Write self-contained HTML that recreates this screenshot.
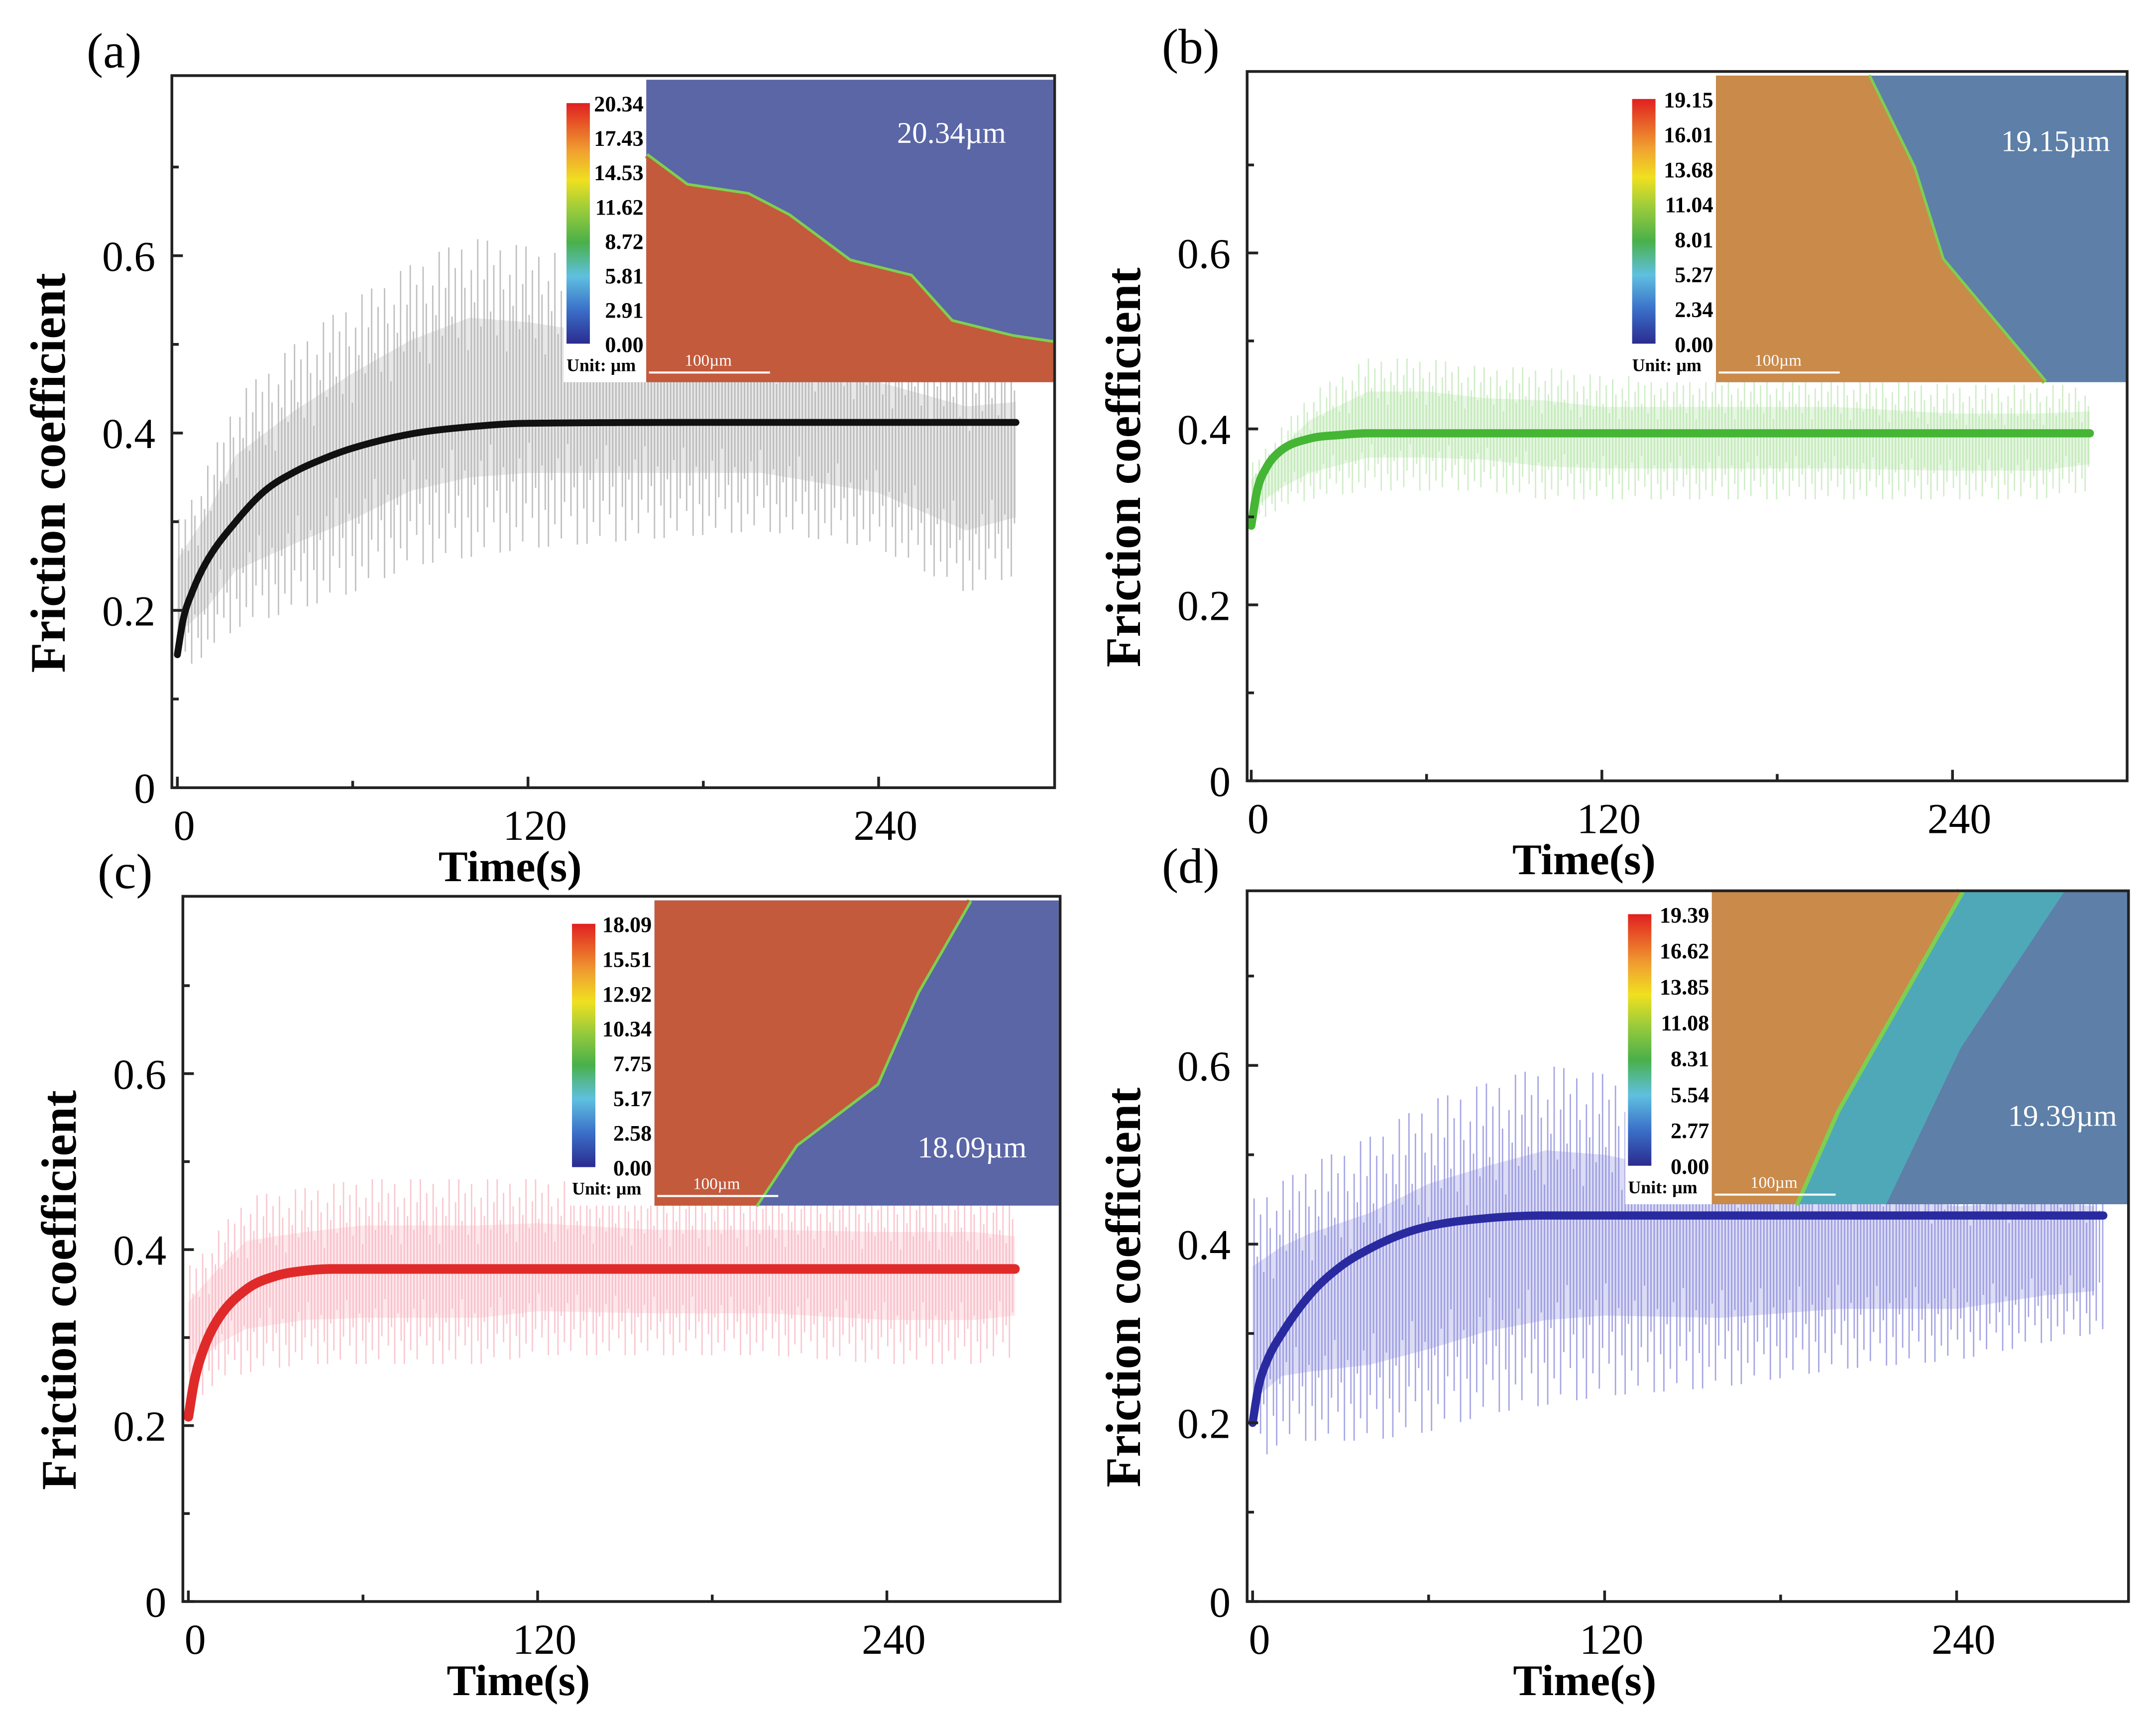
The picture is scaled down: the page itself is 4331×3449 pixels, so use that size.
<!DOCTYPE html>
<html><head><meta charset="utf-8">
<style>
html,body{margin:0;padding:0;background:#fff;}
svg{display:block;}
text{font-family:"Liberation Serif",serif;}
</style></head>
<body>
<svg id="fig" width="4331" height="3449" viewBox="0 0 1568 1249" preserveAspectRatio="none" xmlns="http://www.w3.org/2000/svg">
<defs>
<linearGradient id="cbar" x1="0" y1="1" x2="0" y2="0">
<stop offset="0" stop-color="#2b2b8f"/><stop offset="0.14" stop-color="#3a6fc8"/>
<stop offset="0.28" stop-color="#5fc0e0"/><stop offset="0.42" stop-color="#49b04a"/>
<stop offset="0.56" stop-color="#9ccc3a"/><stop offset="0.68" stop-color="#f0e020"/>
<stop offset="0.8" stop-color="#f0a030"/><stop offset="1" stop-color="#e02020"/>
</linearGradient>
</defs>
</svg>
<script>
// ---- data (times in s, values are friction coefficient) ----
const envTimes = [0, 10, 20, 40, 60, 80, 100, 120, 160, 200, 240, 270, 287];
const upperA = [0.30, 0.36, 0.44, 0.50, 0.55, 0.59, 0.62, 0.61, 0.58, 0.55, 0.52, 0.50, 0.50];
const lowerA = [0.13, 0.15, 0.18, 0.20, 0.22, 0.25, 0.26, 0.27, 0.28, 0.29, 0.27, 0.22, 0.24];
const upperB = [0.36, 0.40, 0.44, 0.48, 0.48, 0.47, 0.47, 0.46, 0.46, 0.46, 0.45, 0.45, 0.45];
const lowerB = [0.29, 0.31, 0.32, 0.33, 0.33, 0.33, 0.32, 0.32, 0.32, 0.32, 0.32, 0.32, 0.33];
const upperC = [0.38, 0.42, 0.46, 0.47, 0.48, 0.48, 0.48, 0.48, 0.47, 0.47, 0.47, 0.47, 0.46];
const lowerC = [0.22, 0.25, 0.26, 0.27, 0.27, 0.27, 0.27, 0.28, 0.28, 0.28, 0.27, 0.27, 0.28];
const upperD = [0.45, 0.47, 0.49, 0.52, 0.56, 0.58, 0.60, 0.59, 0.55, 0.53, 0.50, 0.50, 0.49];
const lowerD = [0.15, 0.18, 0.18, 0.18, 0.19, 0.21, 0.22, 0.23, 0.24, 0.26, 0.27, 0.29, 0.30];
const fitTimes = [0, 2, 5, 10, 20, 30, 40, 50, 60, 80, 100, 120, 200, 287];
const fitA = [0.15, 0.19, 0.22, 0.255, 0.30, 0.335, 0.356, 0.371, 0.383, 0.399, 0.407, 0.411, 0.412, 0.412];
const fitB = [0.29, 0.33, 0.355, 0.375, 0.389, 0.393, 0.395, 0.395, 0.395, 0.395, 0.395, 0.395, 0.395, 0.395];
const fitC = [0.21, 0.25, 0.285, 0.32, 0.355, 0.370, 0.376, 0.378, 0.378, 0.378, 0.378, 0.378, 0.378, 0.378];
const fitD = [0.20, 0.24, 0.27, 0.30, 0.345, 0.375, 0.395, 0.41, 0.42, 0.429, 0.432, 0.432, 0.432, 0.432];
const xTicks = [0, 120, 240];
const xTickLabels = ["0", "120", "240"];
const yTicks = [0, 0.2, 0.4, 0.6];
const yTickLabels = ["0", "0.2", "0.4", "0.6"];
const cbarLabelsA = ["20.34","17.43","14.53","11.62","8.72","5.81","2.91","0.00"];
const cbarLabelsB = ["19.15","16.01","13.68","11.04","8.01","5.27","2.34","0.00"];
const cbarLabelsC = ["18.09","15.51","12.92","10.34","7.75","5.17","2.58","0.00"];
const cbarLabelsD = ["19.39","16.62","13.85","11.08","8.31","5.54","2.77","0.00"];
const spikePattern = [1, 0.55, 0.85, 0.4, 0.95, 0.7, 0.3, 0.8, 0.6, 1, 0.45, 0.75];

const NS = "http://www.w3.org/2000/svg";
const svg = document.getElementById("fig");
function mk(tag, attrs, parent) {
  const e = document.createElementNS(NS, tag);
  for (const k in attrs) e.setAttribute(k, attrs[k]);
  (parent || svg).appendChild(e);
  return e;
}
function interp(ts, vs, t) {
  if (t <= ts[0]) return vs[0];
  for (let i = 1; i < ts.length; i++) {
    if (t <= ts[i]) { const f = (t - ts[i-1]) / (ts[i] - ts[i-1]); return vs[i-1] + f * (vs[i] - vs[i-1]); }
  }
  return vs[vs.length - 1];
}
function smooth(ts, vs, t) {
  const n = ts.length;
  if (t <= ts[0]) return vs[0];
  if (t >= ts[n-1]) return vs[n-1];
  const d = [], m = [];
  for (let i = 0; i < n-1; i++) d.push((vs[i+1]-vs[i])/(ts[i+1]-ts[i]));
  m.push(d[0]);
  for (let i = 1; i < n-1; i++) m.push(d[i-1]*d[i] <= 0 ? 0 : (d[i-1]+d[i])/2);
  m.push(d[n-2]);
  for (let i = 0; i < n-1; i++) {
    if (d[i] === 0) { m[i] = 0; m[i+1] = 0; continue; }
    const a = m[i]/d[i], b = m[i+1]/d[i], s = a*a + b*b;
    if (s > 9) { const tt = 3/Math.sqrt(s); m[i] = tt*a*d[i]; m[i+1] = tt*b*d[i]; }
  }
  let k = 0; while (t > ts[k+1]) k++;
  const h = ts[k+1]-ts[k], u = (t-ts[k])/h;
  const h00 = 2*u*u*u-3*u*u+1, h10 = u*u*u-2*u*u+u, h01 = -2*u*u*u+3*u*u, h11 = u*u*u-u*u;
  return h00*vs[k] + h10*h*m[k] + h01*vs[k+1] + h11*h*m[k+1];
}

const panels = [
 {id:"a", l:125, r:767, t:55, b:573, x0:129, x120:384, y02:444, tEnd:287, up:upperA, lo:lowerA, fit:fitA, spike:"#b0b0b0", fitc:"#111", fitw:5, op:0.8,
  ins:{wx:410, ix:470, iy:58, ix2:766, iy2:278}, cb:cbarLabelsA, label:"20.34µm", lx:692, ly:104, kind:"a"},
 {id:"b", l:907, r:1547, t:52, b:568, x0:910, x120:1165, y02:440, tEnd:287, up:upperB, lo:lowerB, fit:fitB, spike:"#a8e09a", fitc:"#45b535", fitw:6, op:0.55,
  ins:{wx:1185, ix:1248, iy:55, ix2:1547, iy2:278}, cb:cbarLabelsB, label:"19.15µm", lx:1495, ly:110, kind:"b"},
 {id:"c", l:133, r:771, t:652, b:1165, x0:137, x120:391, y02:1037, tEnd:284, up:upperC, lo:lowerC, fit:fitC, spike:"#f7b0bc", fitc:"#e02a2a", fitw:7, op:0.7,
  ins:{wx:414, ix:476, iy:655, ix2:770, iy2:877}, cb:cbarLabelsC, label:"18.09µm", lx:707, ly:842, kind:"c"},
 {id:"d", l:907, r:1548, t:648, b:1165, x0:911, x120:1167, y02:1035, tEnd:290, up:upperD, lo:lowerD, fit:fitD, spike:"#8888dc", fitc:"#2a2aa0", fitw:6, op:0.75,
  ins:{wx:1182, ix:1245, iy:648, ix2:1547, iy2:876}, cb:cbarLabelsD, label:"19.39µm", lx:1500, ly:819, kind:"d"}
];

panels.forEach(p => {
  const g = mk("g", {});
  
  
  const xs = t => p.x0 + t * (p.x120 - p.x0) / 120;
  const ys = v => p.b - v * (p.b - p.y02) / 0.2;

  let pts = [];
  for (let k = 0; k < envTimes.length; k++) { const t = Math.min(envTimes[k], p.tEnd); const m=(p.up[k]+p.lo[k])/2; pts.push(xs(t)+","+ys(m+(p.up[k]-m)*0.5)); }
  for (let k = envTimes.length - 1; k >= 0; k--) { const t = Math.min(envTimes[k], p.tEnd); const m=(p.up[k]+p.lo[k])/2; pts.push(xs(t)+","+ys(m-(m-p.lo[k])*0.5)); }
  const band = mk("polygon", {points: pts.join(" "), fill: p.spike, opacity: 0.3}, g);
  
  

  const sg = mk("g", {stroke: p.spike, "stroke-width": 1.0, opacity: p.op}, g);
  
  
  let i = 0;
  for (let t = 0.5; t <= p.tEnd; t += 1.1, i++) {
    const u = interp(envTimes, p.up, t), lo = interp(envTimes, p.lo, t), m = (u + lo) / 2;
    const f1 = spikePattern[i % spikePattern.length], f2 = spikePattern[(i + 5) % spikePattern.length];
    mk("line", {x1: xs(t), x2: xs(t), y1: ys(m + (u - m) * f1), y2: ys(m - (m - lo) * f2)}, sg);
  }

  let d = "";
  for (let t = 0; t <= p.tEnd; t += 0.5) d += (t ? "L" : "M") + xs(t).toFixed(2) + "," + ys(smooth(fitTimes, p.fit, t)).toFixed(2);
  const fl = mk("path", {d: d, fill: "none", stroke: p.fitc, "stroke-width": p.fitw, "stroke-linecap": "round", "stroke-linejoin": "round"}, g);
  
  

  const I = p.ins;
  const ig = mk("g", {}, g);
  
  
  mk("rect", {x: I.wx, y: I.iy, width: I.ix - I.wx, height: I.iy2 - I.iy, fill: "#fff"}, ig);
  const W = I.ix2 - I.ix, H = I.iy2 - I.iy, X = I.ix, Y = I.iy;
  const blue = p.kind === "a" || p.kind === "c" ? "#5a66a6" : "#5d7fa8";
  const warm = p.kind === "b" || p.kind === "d" ? "#c98a4a" : "#c35a3c";
  mk("rect", {x: X, y: Y, width: W, height: H, fill: blue}, ig);
  let poly;
  if (p.kind === "a") { poly = [[0,0.25],[0.1,0.35],[0.25,0.38],[0.35,0.45],[0.5,0.6],[0.65,0.65],[0.75,0.8],[0.9,0.85],[1,0.87],[1,1],[0,1]]; }
  if (p.kind === "b") { poly = [[0,0],[0.37,0],[0.48,0.3],[0.55,0.6],[0.8,1],[0,1]]; }
  if (p.kind === "c") { poly = [[0,0],[0.78,0],[0.65,0.3],[0.55,0.6],[0.35,0.8],[0.25,1],[0,1]]; }
  if (p.kind === "d") { poly = [[0,0],[0.6,0],[0.45,0.35],[0.3,0.7],[0.2,1],[0,1]]; }
  if (p.kind === "d") {
    const bandPts = [[0.6,0],[0.85,0],[0.6,0.5],[0.42,1],[0.2,1],[0.3,0.7],[0.45,0.35]];
    mk("polygon", {points: bandPts.map(q => (X+q[0]*W)+","+(Y+q[1]*H)).join(" "), fill:"#4fa8b8"}, ig);
  }
  const edgePts = poly.filter(q => !((q[0]===0||q[0]===1) && (q[1]===0||q[1]===1)));
  mk("polyline", {points: edgePts.map(q => (X+q[0]*W)+","+(Y+q[1]*H)).join(" "), fill:"none", stroke:"#7ecf50", "stroke-width": p.kind==="d"?6:4}, ig);
  mk("polygon", {points: poly.map(q => (X+q[0]*W)+","+(Y+q[1]*H)).join(" "), fill: warm}, ig);
  mk("line", {x1: X+2, x2: X+90, y1: Y+H-7, y2: Y+H-7, stroke:"#fff", "stroke-width":1.5}, ig);
  const sb = mk("text", {x: X+28, y: Y+H-12, fill:"#fff", "font-size": 12}, ig); sb.textContent = "100µm";
  const lb = mk("text", {x: p.lx, y: p.ly, fill:"#fff", "font-size": 22, "text-anchor":"middle"}, ig); lb.textContent = p.label;
  const cbx = I.wx + 2, cbt = Y + 17, cbb = Y + H - 28;
  const cb = mk("rect", {x: cbx, y: cbt, width: 17, height: cbb - cbt, fill: "url(#cbar)"}, ig);
  
  
  p.cb.forEach((s, k) => {
    const tt = mk("text", {x: I.ix - 2, y: cbt + 6 + k * (cbb - cbt) / 7, "font-size": 16, "font-weight": "bold", "text-anchor": "end"}, ig);
    tt.textContent = s;
  });
  const un = mk("text", {x: I.wx + 2, y: Y + H - 8, "font-size": 13, "font-weight": "bold"}, ig); un.textContent = "Unit: µm";

  const fr = mk("rect", {x: p.l, y: p.t, width: p.r - p.l, height: p.b - p.t, fill: "none", stroke: "#222", "stroke-width": 2}, g);
  
  
  xTicks.forEach((t, k) => {
    mk("line", {x1: xs(t), x2: xs(t), y1: p.b, y2: p.b - 8, stroke: "#222", "stroke-width": 2}, g);
    const tx = mk("text", {x: xs(t) + 5, y: p.b + 38, "font-size": 31, "text-anchor": "middle"}, g);
    tx.textContent = xTickLabels[k];
    
    
  });
  [60, 180].forEach(t => mk("line", {x1: xs(t), x2: xs(t), y1: p.b, y2: p.b - 5, stroke: "#222", "stroke-width": 2}, g));
  yTicks.forEach((v, k) => {
    mk("line", {x1: p.l, x2: p.l + 8, y1: ys(v), y2: ys(v), stroke: "#222", "stroke-width": 2}, g);
    const ty = mk("text", {x: p.l - 12, y: ys(v) + 11, "font-size": 31, "text-anchor": "end"}, g);
    ty.textContent = yTickLabels[k];
    
    
  });
  [0.1, 0.3, 0.5, 0.7].forEach(v => mk("line", {x1: p.l, x2: p.l + 5, y1: ys(v), y2: ys(v), stroke: "#222", "stroke-width": 2}, g));
  const xt = mk("text", {x: (p.l + p.r) / 2 - 75, y: p.b + 68, "font-size": 32, "font-weight": "bold", "text-anchor": "middle"}, g);
  xt.textContent = "Time(s)";
  
  
  const cy = (p.t + p.b) / 2 + 30;
  const yt = mk("text", {x: p.l - 78, y: cy, "font-size": 36, "font-weight": "bold", "text-anchor": "middle", transform: "rotate(-90 " + (p.l - 78) + " " + cy + ")"}, g);
  yt.textContent = "Friction coefficient";
  
  
  const pl = mk("text", {x: p.l - 62, y: p.t - 6, "font-size": 36}, g);
  pl.textContent = "(" + p.id + ")";
  
  
});
</script>
</body></html>
